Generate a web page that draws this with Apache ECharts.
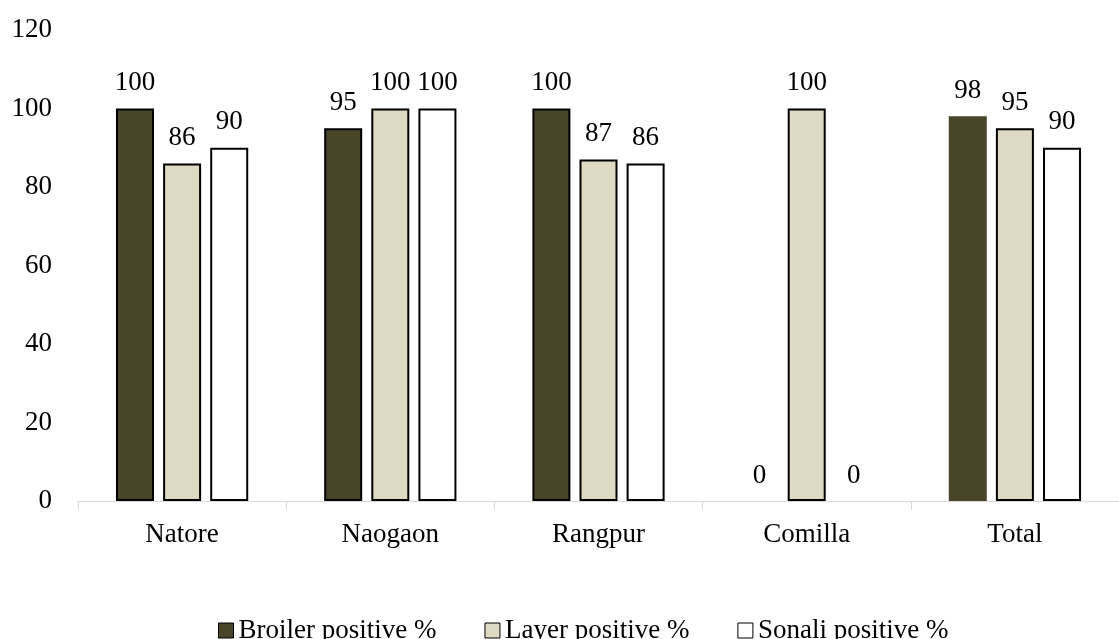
<!DOCTYPE html>
<html>
<head>
<meta charset="utf-8">
<script src="https://cdn.jsdelivr.net/npm/echarts@6/dist/echarts.min.js"></script>
<style>
  html, body { margin: 0; padding: 0; background: #ffffff; }
  #chart { width: 1119px; height: 639px; }
</style>
</head>
<body>
<div id="chart"></div>
<script>
// Districts and the share of positive samples per poultry type
const districts = ['Natore', 'Naogaon', 'Rangpur', 'Comilla', 'Total'];
const broilerPositive = [100, 95, 100, 0, 98];
const layerPositive = [86, 100, 87, 100, 95];
const sonaliPositive = [90, 100, 86, 0, 90];
const yTicks = [0, 20, 40, 60, 80, 100, 120];

const FONT = 'Liberation Serif';
const chart = echarts.init(document.getElementById('chart'), null, { renderer: 'canvas' });

const labelStyle = {
  show: true,
  position: 'top',
  distance: 12,
  fontFamily: FONT,
  fontSize: 27,
  color: '#000000'
};

// Outlined bars; empty (zero) bars and the Total broiler bar have no outline
function barSeries(name, values, color, borderFor) {
  return {
    name: name,
    type: 'bar',
    barWidth: 38,
    barGap: '24%',
    data: values.map((v, i) => ({
      value: v,
      itemStyle: { borderWidth: (v > 0 && borderFor(i)) ? 2 : 0 }
    })),
    itemStyle: { color: color, borderColor: '#000000', borderWidth: 2 },
    label: labelStyle
  };
}

chart.setOption({
  animation: false,
  backgroundColor: '#ffffff',
  textStyle: { fontFamily: FONT },
  grid: { left: 78, right: -11, top: 30, bottom: 138, containLabel: false },
  legend: {
    left: 213,
    top: 612,
    itemWidth: 15,
    itemHeight: 15,
    itemGap: 48,
    icon: 'rect',
    textStyle: { fontFamily: FONT, fontSize: 27, color: '#000000', padding: [0, 0, 0, 0] },
    data: [
      { name: 'Broiler positive %', itemStyle: { borderColor: '#000000', borderWidth: 1 } },
      { name: 'Layer positive %', itemStyle: { borderColor: '#000000', borderWidth: 1 } },
      { name: 'Sonali positive %', itemStyle: { borderColor: '#000000', borderWidth: 1 } }
    ]
  },
  xAxis: {
    type: 'category',
    data: districts,
    axisLine: { show: true, lineStyle: { color: '#d9d9d9', width: 1 } },
    axisTick: { show: true, length: 9, alignWithLabel: false, lineStyle: { color: '#d9d9d9' } },
    axisLabel: { fontFamily: FONT, fontSize: 27, color: '#000000', margin: 20 },
    splitLine: { show: false }
  },
  yAxis: {
    type: 'value',
    min: yTicks[0],
    max: yTicks[yTicks.length - 1],
    interval: yTicks[1] - yTicks[0],
    axisLine: { show: false },
    axisTick: { show: false },
    splitLine: { show: false },
    axisLabel: { fontFamily: FONT, fontSize: 27, color: '#000000', margin: 26 }
  },
  series: [
    barSeries('Broiler positive %', broilerPositive, '#494529', i => districts[i] !== 'Total'),
    barSeries('Layer positive %', layerPositive, '#ddd9c3', () => true),
    barSeries('Sonali positive %', sonaliPositive, '#ffffff', () => true)
  ]
});
</script>
</body>
</html>
